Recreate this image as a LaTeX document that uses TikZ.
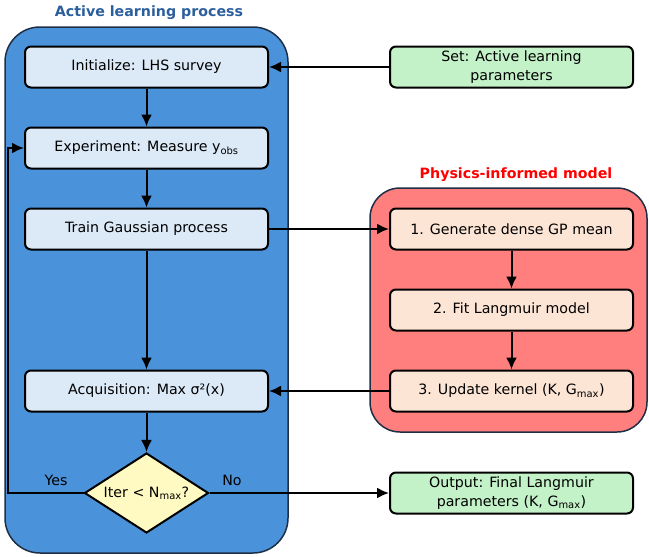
\documentclass[tikz,border=0pt]{standalone}
\usepackage{fontspec}
\setmainfont{DejaVu Sans}
\usetikzlibrary{shapes.geometric,arrows.meta}
\definecolor{alback}{HTML}{4A92DA}
\definecolor{alfill}{HTML}{DCE9F6}
\definecolor{altitle}{HTML}{2B5E9C}
\definecolor{pimback}{HTML}{FF7F7F}
\definecolor{pimfill}{HTML}{FDE5D6}
\definecolor{iofill}{HTML}{C3F1C8}
\definecolor{decfill}{HTML}{FFFAC2}
\definecolor{frame}{HTML}{1E2F45}
\tikzset{
  box/.style={draw=black, line width=2pt, rounded corners=6pt,
    minimum width=243pt, minimum height=41pt, inner sep=2pt, align=center,
    font=\fontsize{14.2}{19}\selectfont},
  albox/.style={box, fill=alfill},
  pimbox/.style={box, fill=pimfill},
  iobox/.style={box, fill=iofill},
  decision/.style={diamond, draw=black, line width=2pt, fill=decfill,
    minimum width=124pt, minimum height=80pt, aspect=1.55, inner sep=0pt,
    font=\fontsize{14.2}{17}\selectfont},
  group/.style={draw=frame, line width=1.5pt},
  grouptitle/.style={font=\bfseries\fontsize{14.2}{17}\selectfont},
  lbl/.style={font=\fontsize{14.2}{17}\selectfont}
}
\begin{document}
\begin{tikzpicture}[x=1pt, y=-1pt, line width=2pt, >={Latex[length=12pt,width=11pt]}]
  \useasboundingbox (0,0) rectangle (649,557);
  % groups
  \draw [group, fill=alback, rounded corners=35pt] (5,27) rectangle (288,553);
  \draw [group, fill=pimback, rounded corners=30pt] (370,188) rectangle (647,432);
  \node [grouptitle, text=altitle] (altitle) at (149,13) {Active learning process};
  \node [grouptitle, text=red] (pimtitle) at (516,175) {Physics-informed model};
  % active learning loop
  \node [albox] (init) at (146.5,67) {Initialize: LHS survey};
  \node [albox] (exp) at (146.5,148) {Experiment: Measure y\textsubscript{obs}};
  \node [albox] (train) at (146.5,229) {Train Gaussian process};
  \node [albox] (acq) at (146.5,391) {Acquisition: Max σ²(x)};
  \node [decision] (iter) at (146.5,493) {Iter < N\textsubscript{max}?};
  % physics-informed model
  \node [pimbox] (gen) at (511.5,229) {1. Generate dense GP mean};
  \node [pimbox] (fit) at (511.5,310) {2. Fit Langmuir model};
  \node [pimbox] (upd) at (511.5,391) {3. Update kernel (K, G\textsubscript{max})};
  % inputs and outputs
  \node [iobox] (set) at (511.5,67) {Set: Active learning\\parameters};
  \node [iobox] (out) at (511.5,493) {Output: Final Langmuir\\parameters (K, G\textsubscript{max})};
  \node [lbl] (yes) at (56,480) {Yes};
  \node [lbl] (no) at (232,480) {No};
  \coordinate (loop) at (8,493);
  % connectors
  \draw [->] (init) -- (exp);
  \draw [->] (exp) -- (train);
  \draw [->] (train) -- (acq);
  \draw [->] (acq) -- (iter);
  \draw [->] (set) -- (init);
  \draw [->] (train) -- (gen);
  \draw [->] (gen) -- (fit);
  \draw [->] (fit) -- (upd);
  \draw [->] (upd) -- (acq);
  \draw [->] (iter.west) -- (loop) |- (exp.west);
  \draw [->] (iter.east) -- (out.west);
\end{tikzpicture}
\end{document}
